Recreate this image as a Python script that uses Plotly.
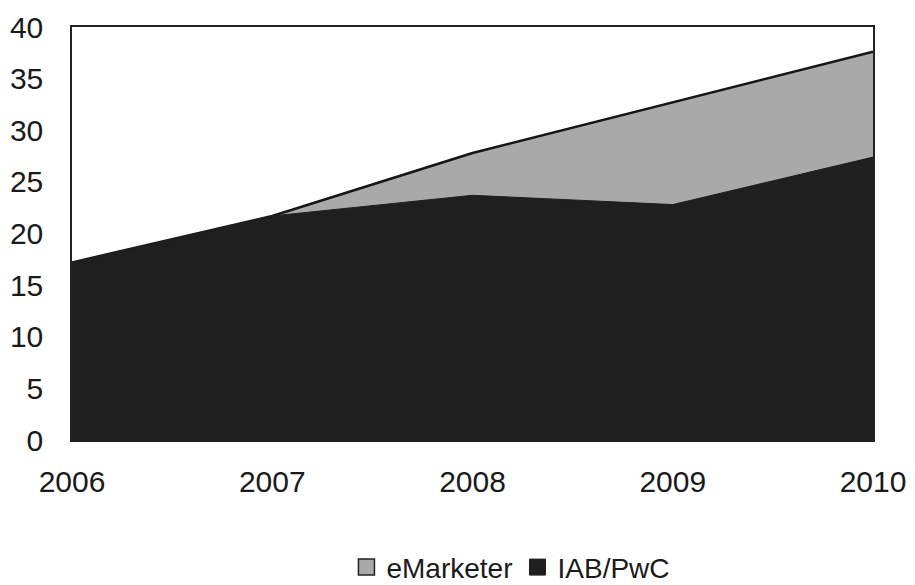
import plotly.graph_objects as go

years = [2006, 2007, 2008, 2009, 2010]
emarketer = [17.2, 21.7, 27.8, 32.7, 37.6]
iab_pwc = [17.2, 21.7, 23.7, 22.8, 27.4]
y_ticks = [0, 5, 10, 15, 20, 25, 30, 35, 40]

GRAY = "#a9a9a9"
DARK = "#1f1f1f"

fig = go.Figure()
# stacked-looking areas: total (eMarketer) behind, IAB/PwC in front
fig.add_trace(go.Scatter(
    x=years, y=emarketer, name="eMarketer", mode="lines",
    fill="tozeroy", fillcolor=GRAY,
    line=dict(color="#151515", width=2.5), showlegend=False,
))
fig.add_trace(go.Scatter(
    x=years, y=iab_pwc, name="IAB/PwC", mode="lines",
    fill="tozeroy", fillcolor=DARK,
    line=dict(color=DARK, width=1), showlegend=False,
))
# square legend keys
fig.add_trace(go.Scatter(
    x=[None], y=[None], name="eMarketer", mode="markers",
    marker=dict(symbol="square", size=17, color=GRAY, line=dict(color="#222", width=1.5)),
))
fig.add_trace(go.Scatter(
    x=[None], y=[None], name="IAB/PwC", mode="markers",
    marker=dict(symbol="square", size=17, color=DARK, line=dict(color=DARK, width=1)),
))

font = dict(family="Liberation Sans, Arial, sans-serif", size=30, color="#1a1a1a")
fig.update_layout(
    width=915, height=585,
    margin=dict(l=72, r=42, t=27, b=145, autoexpand=False),
    paper_bgcolor="white", plot_bgcolor="white",
    font=font,
    showlegend=True,
    legend=dict(orientation="h", x=0.548, xanchor="center", y=-0.248, yanchor="top",
                font=dict(family=font["family"], size=28, color="#1a1a1a"),
                itemwidth=30, tracegroupgap=0),
)
fig.update_xaxes(
    range=[2006, 2010], tickvals=years, ticktext=[str(y) for y in years],
    showgrid=False, zeroline=False, showline=True, linecolor="#222",
    linewidth=1.5, mirror=True, ticks="", ticklabelstandoff=14,
)
fig.update_yaxes(
    range=[0, 40], tickvals=y_ticks, showgrid=False, zeroline=False,
    showline=True, linecolor="#222", linewidth=1.5, mirror=True, ticks="",
    ticklabelstandoff=21,
)
fig.write_html("out.html")
